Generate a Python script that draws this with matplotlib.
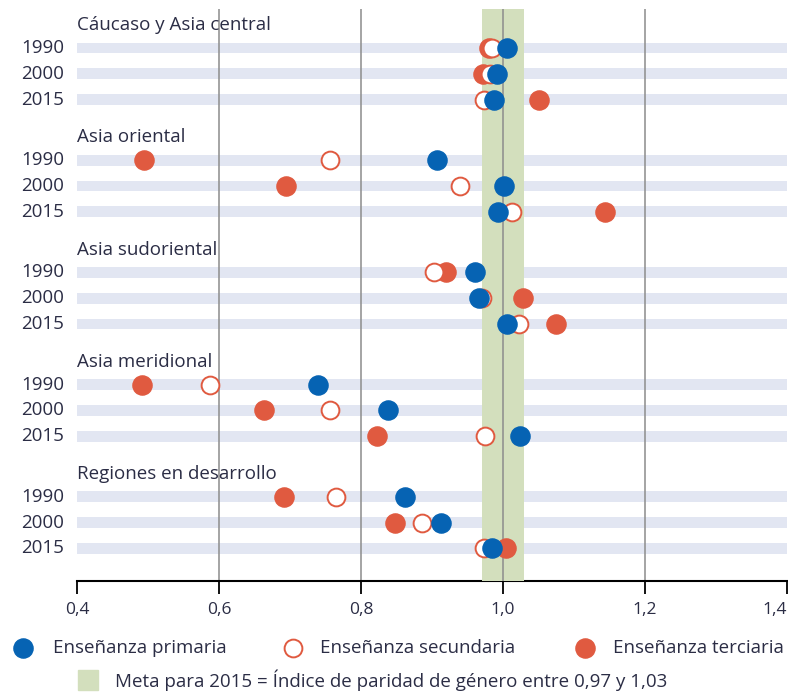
import matplotlib
matplotlib.use("Agg")
import matplotlib.pyplot as plt
from matplotlib.lines import Line2D
from matplotlib.patches import Rectangle

plt.rcParams["font.family"] = ["Open Sans", "DejaVu Sans"]

regions = ["Cáucaso y Asia central", "Asia oriental", "Asia sudoriental",
           "Asia meridional", "Regiones en desarrollo"]
years = ["1990", "2000", "2015"]

# índice de paridad de género, por región (filas: 1990, 2000, 2015)
primaria = [[1.005, 0.991, 0.988],
            [0.907, 1.001, 0.993],
            [0.961, 0.966, 1.005],
            [0.739, 0.838, 1.024],
            [0.862, 0.913, 0.984]]
secundaria = [[0.985, 0.982, 0.973],
              [0.756, 0.939, 1.013],
              [0.903, 0.970, 1.022],
              [0.588, 0.756, 0.974],
              [0.765, 0.886, 0.973]]
terciaria = [[0.980, 0.972, 1.050],
             [0.495, 0.694, 1.144],
             [0.920, 1.028, 1.074],
             [0.492, 0.663, 0.823],
             [0.692, 0.848, 1.004]]

meta_lo, meta_hi = 0.97, 1.03
xticks = [0.4, 0.6, 0.8, 1.0, 1.2, 1.4]

BLUE = "#0663b3"
RED = "#e05a40"
BAR = "#e2e6f2"
GREEN = "#d3dfbd"
GRID = "#8c8c8c"
TXT = "#2b2d45"
FS = 13.5

GAP = 4.35

fig = plt.figure(figsize=(7.88, 6.96), dpi=100)
ax = fig.add_axes([77 / 788, 115 / 696, 710 / 788, 572 / 696])

rows_y = []
for g, reg in enumerate(regions):
    base = g * GAP
    ax.text(0.4, base - 0.88, reg, ha="left", va="center", fontsize=FS,
            color=TXT)
    for r, yr in enumerate(years):
        y = base + r
        rows_y.append(y)
        ax.barh(y, 1.0, left=0.4, height=0.42, color=BAR, zorder=1)
        ax.text(-0.018, y, yr, transform=ax.get_yaxis_transform(),
                ha="right", va="center", fontsize=FS, color=TXT)

ter = [v for row in terciaria for v in row]
sec = [v for row in secundaria for v in row]
pri = [v for row in primaria for v in row]

for xv in [0.6, 0.8, 1.2]:
    ax.axvline(xv, color=GRID, lw=1.1, zorder=2)
ax.axvspan(meta_lo, meta_hi, color=GREEN, zorder=3, lw=0)
ax.axvline(1.0, color=GRID, lw=1.1, zorder=3.5)

ax.plot(ter, rows_y, "o", ms=13.8, color=RED, mec=RED, zorder=4)
ax.plot(sec, rows_y, "o", ms=12.8, mfc="white", mec=RED, mew=1.4, zorder=5)
ax.plot(pri, rows_y, "o", ms=13.8, color=BLUE, mec=BLUE, zorder=6)

ax.set_xlim(0.4, 1.4)
ax.set_ylim(20.66, -1.51)
ax.set_yticks([])
ax.set_xticks(xticks)
ax.set_xticklabels([f"{t:.1f}".replace(".", ",") for t in xticks],
                   fontsize=12.5, color=TXT)
ax.get_xticklabels()[-1].set_ha("right")
ax.tick_params(axis="x", length=9, width=1.3, color="black", pad=6)
for s in ["top", "right", "left"]:
    ax.spines[s].set_visible(False)
ax.spines["bottom"].set_linewidth(1.5)
ax.spines["bottom"].set_color("black")
ax.spines["bottom"].set_zorder(2.5)

# leyenda
def fx(px):
    return px / 788


def fy(py):
    return 1 - py / 696


ly1, ly2 = 648, 680
fig.add_artist(Line2D([fx(23)], [fy(ly1)], marker="o", ms=13.8, color=BLUE,
                      mec=BLUE, transform=fig.transFigure))
fig.text(fx(53), fy(ly1), "Enseñanza primaria", ha="left", va="center",
         fontsize=FS, color=TXT)
fig.add_artist(Line2D([fx(293)], [fy(ly1)], marker="o", ms=12.8, mfc="white",
                      mec=RED, mew=1.4, transform=fig.transFigure))
fig.text(fx(320), fy(ly1), "Enseñanza secundaria", ha="left", va="center",
         fontsize=FS, color=TXT)
fig.add_artist(Line2D([fx(585)], [fy(ly1)], marker="o", ms=13.8, color=RED,
                      mec=RED, transform=fig.transFigure))
fig.text(fx(613), fy(ly1), "Enseñanza terciaria", ha="left", va="center",
         fontsize=FS, color=TXT)
fig.add_artist(Rectangle((fx(78), fy(ly2 + 10)), fx(20), 20 / 696,
                         color=GREEN, transform=fig.transFigure))
fig.text(fx(115), fy(ly2), "Meta para 2015 = Índice de paridad de género entre 0,97 y 1,03",
         ha="left", va="center", fontsize=FS, color=TXT)

fig.savefig("out.png", dpi=100)
